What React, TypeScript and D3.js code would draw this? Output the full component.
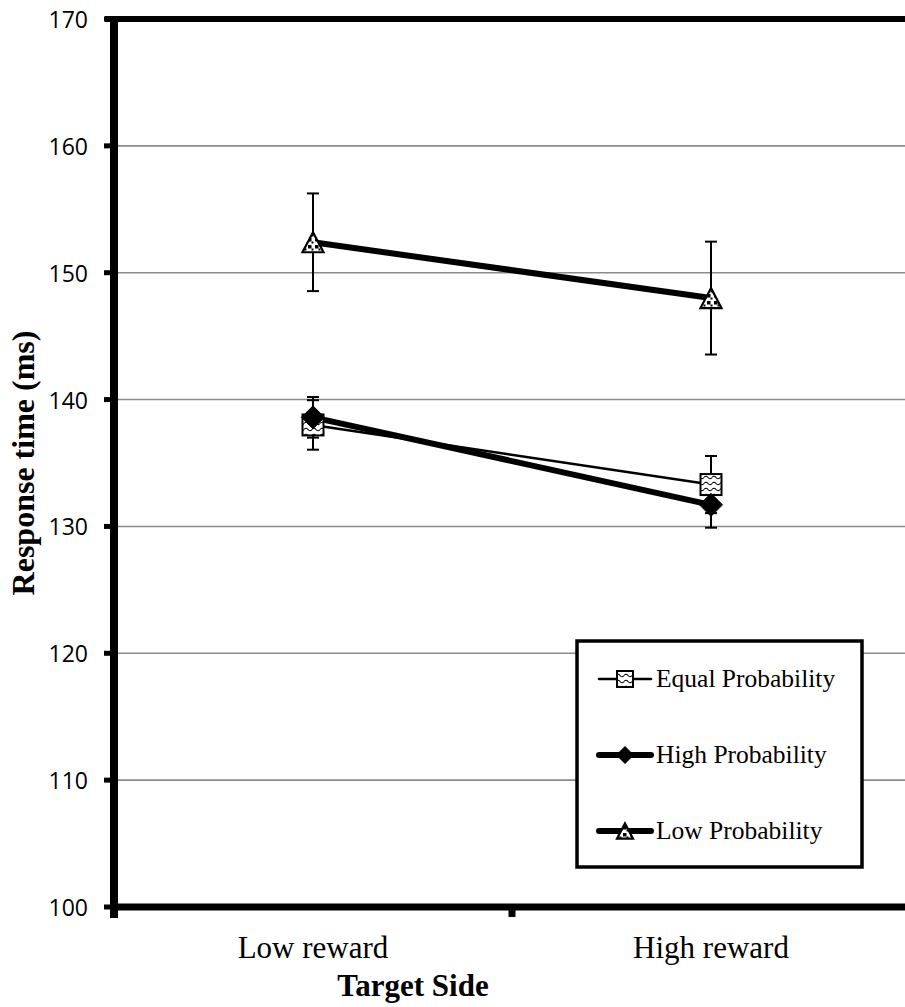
import React from "react";
import * as d3 from "d3";

// Condition categories on the x axis
const categories = ["Low reward", "High reward"];
// Y axis ticks (ms)
const yTicks = [100, 110, 120, 130, 140, 150, 160, 170];

// Mean response times and error bar half-widths per series
const equalMeans = [138.0, 133.3];
const equalErr = [1.95, 2.25];
const highMeans = [138.6, 131.7];
const highErr = [1.6, 1.8];
const lowMeans = [152.4, 148.0];
const lowErr = [3.85, 4.45];

const seriesNames = ["Equal Probability", "High Probability", "Low Probability"];

const W = 905;
const H = 1007;

const SERIF = "'Liberation Serif', 'Times New Roman', serif";
const SANS = "'Open Sans', 'Noto Sans', sans-serif";

type Series = {
  name: string;
  means: number[];
  err: number[];
  lineWidth: number;
  marker: "square" | "diamond" | "triangle";
};

const series: Series[] = [
  { name: seriesNames[0], means: equalMeans, err: equalErr, lineWidth: 2.5, marker: "square" },
  { name: seriesNames[1], means: highMeans, err: highErr, lineWidth: 6, marker: "diamond" },
  { name: seriesNames[2], means: lowMeans, err: lowErr, lineWidth: 6, marker: "triangle" },
];

function Marker({ type, x, y, size }: { type: string; x: number; y: number; size: number }) {
  const h = size / 2;
  if (type === "square") {
    return (
      <rect x={x - h} y={y - h} width={size} height={size} fill="url(#wave)" stroke="#000" strokeWidth={2} />
    );
  }
  if (type === "diamond") {
    return (
      <path d={`M${x},${y - h}L${x + h},${y}L${x},${y + h}L${x - h},${y}Z`} fill="#000" stroke="#000" strokeWidth={1} />
    );
  }
  const th = size * 0.95;
  return (
    <g>
      <path
        d={`M${x},${y - th / 2}L${x + h},${y + th / 2}L${x - h},${y + th / 2}Z`}
        fill="#fff"
        stroke="#000"
        strokeWidth={2.2}
        strokeLinejoin="miter"
      />
      <path
        d={`M${x},${y - th / 2}L${x + h},${y + th / 2}L${x - h},${y + th / 2}Z`}
        fill="url(#checks)"
        stroke="none"
      />
    </g>
  );
}

export default function App() {
  const left = 114;
  const right = 910;
  const top = 19;
  const bottom = 907;

  const y = d3.scaleLinear().domain([100, 170]).range([bottom, top]);
  const x = d3.scalePoint<string>().domain(categories).range([left, right]).padding(0.5);
  const step = x.step();
  const xTickPos = d3.range(categories.length + 1).map((i) => left + i * step);

  const line = d3
    .line<number>()
    .x((_, i) => x(categories[i]) as number)
    .y((d) => y(d));

  const capW = 12;

  // legend layout
  const lg = { x: 577, y: 641, w: 285, h: 226 };
  const legendRows = [679, 755, 831];

  return (
    <div style={{ position: "absolute", left: 0, top: 0 }}>
      <svg width={W} height={H} style={{ display: "block", background: "#fff" }}>
        <defs>
          <pattern id="wave" patternUnits="userSpaceOnUse" width="8" height="6">
            <rect width="8" height="6" fill="#fff" />
            <path d="M0,3.5 Q2,1 4,3.5 T8,3.5" fill="none" stroke="#000" strokeWidth="1.1" />
          </pattern>
          <pattern id="checks" patternUnits="userSpaceOnUse" width="7" height="7">
            <rect x="0" y="0" width="3.5" height="3.5" fill="#000" />
            <rect x="3.5" y="3.5" width="2" height="2" fill="#000" />
          </pattern>
        </defs>

        {/* horizontal gridlines */}
        {yTicks
          .filter((t) => t !== 100 && t !== 170)
          .map((t) => (
            <line key={t} x1={left} x2={right} y1={y(t)} y2={y(t)} stroke="#8c8c8c" strokeWidth={1.6} />
          ))}

        {/* top border */}
        <line x1={105} x2={right} y1={y(170)} y2={y(170)} stroke="#000" strokeWidth={6} />

        {/* y axis */}
        <line x1={left} x2={left} y1={y(170) - 3} y2={bottom + 11} stroke="#000" strokeWidth={8} />
        {yTicks.map((t) => (
          <g key={t}>
            <line x1={104} x2={left} y1={y(t)} y2={y(t)} stroke="#000" strokeWidth={5} />
            <text
              x={88}
              y={y(t)}
              textAnchor="end"
              dominantBaseline="central"
              fontFamily={SANS}
              fontSize={23}
              fill="#000"
            >
              {t}
            </text>
          </g>
        ))}

        {/* x axis */}
        <line x1={left - 4} x2={right} y1={bottom} y2={bottom} stroke="#000" strokeWidth={7} />
        {xTickPos.map((p, i) => (
          <line key={i} x1={p} x2={p} y1={bottom} y2={bottom + 10} stroke="#000" strokeWidth={7} />
        ))}
        {categories.map((c) => (
          <text key={c} x={x(c)} y={958} textAnchor="middle" fontFamily={SERIF} fontSize={31} fill="#000">
            {c}
          </text>
        ))}

        {/* axis titles */}
        <text x={413} y={996} textAnchor="middle" fontFamily={SERIF} fontWeight="bold" fontSize={31} fill="#000">
          Target Side
        </text>
        <text
          transform={`translate(34,${(top + bottom) / 2}) rotate(-90)`}
          textAnchor="middle"
          fontFamily={SERIF}
          fontWeight="bold"
          fontSize={32}
          fill="#000"
        >
          Response time (ms)
        </text>

        {/* series lines */}
        {series.map((s) => (
          <path key={s.name} d={line(s.means) || ""} fill="none" stroke="#000" strokeWidth={s.lineWidth} />
        ))}

        {/* error bars */}
        {series.map((s) =>
          s.means.map((m, i) => {
            const cx = x(categories[i]) as number;
            const y1 = y(m + s.err[i]);
            const y2 = y(m - s.err[i]);
            return (
              <g key={`${s.name}-${i}`} stroke="#000" strokeWidth={2}>
                <line x1={cx} x2={cx} y1={y1} y2={y2} />
                <line x1={cx - capW / 2} x2={cx + capW / 2} y1={y1} y2={y1} />
                <line x1={cx - capW / 2} x2={cx + capW / 2} y1={y2} y2={y2} />
              </g>
            );
          })
        )}

        {/* markers */}
        {series.map((s) =>
          s.means.map((m, i) => (
            <Marker
              key={`${s.name}-m${i}`}
              type={s.marker}
              x={x(categories[i]) as number}
              y={y(m)}
              size={s.marker === "diamond" ? 23 : 21}
            />
          ))
        )}

        {/* legend */}
        <rect x={lg.x} y={lg.y} width={lg.w} height={lg.h} fill="#fff" stroke="#000" strokeWidth={3.5} />
        {series.map((s, i) => {
          const ly = legendRows[i];
          return (
            <g key={`lg-${s.name}`}>
              <line
                x1={599}
                x2={651}
                y1={ly}
                y2={ly}
                stroke="#000"
                strokeWidth={s.lineWidth}
                strokeLinecap="round"
              />
              <Marker type={s.marker} x={625} y={ly} size={s.marker === "diamond" ? 17 : 16} />
              <text x={656} y={ly + 8} fontFamily={SERIF} fontSize={25.5} fill="#000">
                {s.name}
              </text>
            </g>
          );
        })}
      </svg>
    </div>
  );
}
